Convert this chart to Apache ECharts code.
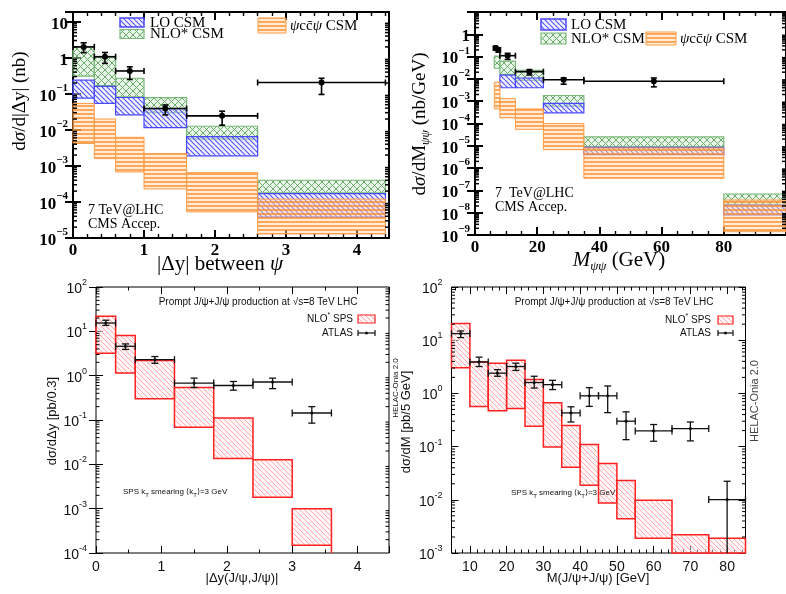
<!DOCTYPE html>
<html>
<head>
<meta charset="utf-8">
<script src="https://cdn.jsdelivr.net/npm/echarts@6/dist/echarts.min.js"></script>
<style>
html, body { margin: 0; padding: 0; background: #fff; }
#chart { width: 786px; height: 594px; }
</style>
</head>
<body>
<div id="chart"></div>
<script>
// ---------- CMS 7 TeV, |Δy| between the two ψ ----------
const dyEdges = [0, 0.3, 0.6, 1.0, 1.6, 2.6, 4.4];
const dyNloHi = [2.0, 1.02, 0.27, 0.078, 0.0126, 4.0e-4];
const dyNloLo = [0.31, 0.17, 0.083, 0.03, 0.0055, 1.8e-4];
const dyLoHi = [0.24, 0.16, 0.079, 0.039, 0.0065, 1.7e-4];
const dyLoLo = [0.076, 0.054, 0.026, 0.0115, 0.0019, 3.8e-5];
const dyCcHi = [0.054, 0.020, 0.0062, 0.0022, 6.5e-4, 1.2e-4];
const dyCcLo = [0.0042, 0.0016, 6.8e-4, 2.3e-4, 5.3e-5, 1.3e-5];
const dyCmsX = [0.15, 0.45, 0.8, 1.3, 2.1, 3.5];
const dyCmsY = [2.0, 1.07, 0.43, 0.039, 0.0245, 0.206];
const dyCmsLo = [1.38, 0.7, 0.25, 0.026, 0.0135, 0.096];
const dyCmsHi = [2.6, 1.4, 0.56, 0.049, 0.033, 0.27];

// ---------- CMS 7 TeV, ψψ invariant mass ----------
const mEdges = [6.2, 8, 13, 22, 35, 80, 100];
const mNloHi = [0.105, 0.063, 0.024, 1.8e-3, 2.5e-5, 6.9e-8];
const mNloLo = [0.03, 0.016, 0.0085, 6.0e-4, 9.0e-6, 2.2e-8];
const mLoHi = [null, 0.0147, 0.011, 8.0e-4, 8.5e-6, 2.2e-8];
const mLoLo = [null, 0.004, 0.004, 3.0e-4, 4.0e-6, 7.9e-9];
const mCcHi = [7.0e-3, 1.3e-3, 4.5e-4, 1.0e-4, 8.0e-6, 3.7e-8];
const mCcLo = [4.5e-4, 1.8e-4, 5.5e-5, 6.7e-6, 3.5e-7, 1.4e-9];
const mCmsX = [6.6, 7.5, 10.5, 17.5, 28.5, 57.5];
const mCmsXLo = [6.2, 7.0, 8, 13, 22, 35];
const mCmsXHi = [7.0, 8.0, 13, 22, 35, 80];
const mCmsY = [0.24, 0.2, 0.11, 0.021, 0.0092, 0.0078];
const mCmsLo = [0.2, 0.16, 0.075, 0.015, 0.0058, 0.0044];
const mCmsHi = [0.28, 0.25, 0.14, 0.026, 0.011, 0.011];

// ---------- ATLAS 8 TeV, |Δy(J/ψ,J/ψ)| ----------
const dyAEdges = [0, 0.3, 0.6, 1.2, 1.8, 2.4, 3.0, 3.6];
const dyASpsHi = [22, 8.1, 2.2, 0.54, 0.111, 0.0127, 1.0e-3];
const dyASpsLo = [3.2, 1.15, 0.30, 0.069, 0.0135, 0.0018, 1.5e-4];
const dyAtlasX = [0.15, 0.45, 0.9, 1.5, 2.1, 2.7, 3.3];
const dyAtlasY = [15.4, 4.6, 2.3, 0.68, 0.6, 0.72, 0.144];
const dyAtlasLo = [13.6, 3.9, 1.9, 0.54, 0.47, 0.51, 0.085];
const dyAtlasHi = [17.8, 5.2, 2.7, 0.88, 0.74, 0.88, 0.2];

// ---------- ATLAS 8 TeV, M(J/ψ+J/ψ) ----------
const mAEdges = [5, 10, 15, 20, 25, 30, 35, 40, 45, 50, 55, 65, 75, 85];
const mASpsHi = [20.5, 3.9, 3.7, 4.2, 1.82, 0.67, 0.25, 0.109, 0.048, 0.023, 0.0098, 0.0022, 0.0019];
const mASpsLo = [3.05, 0.57, 0.47, 0.52, 0.24, 0.098, 0.041, 0.0187, 0.0087, 0.0044, 0.0019, 6e-4, 6e-4];
const mAtlasX = [7.5, 12.5, 17.5, 22.5, 27.5, 32.5, 37.5, 42.5, 47.5, 52.5, 60, 70, 80];
const mAtlasY = [13.3, 3.9, 2.4, 3.2, 1.6, 1.46, 0.43, 0.9, 0.9, 0.3, 0.197, 0.218, 0.0101];
const mAtlasLo = [11.2, 3.2, 2.1, 2.7, 1.26, 1.18, 0.29, 0.57, 0.435, 0.135, 0.126, 0.128, 1e-4];
const mAtlasHi = [14.9, 4.8, 2.8, 3.7, 2.1, 1.76, 0.56, 1.28, 1.38, 0.45, 0.26, 0.29, 0.0223];

// axis ranges
const yRange = [[1e-5, 18.6], [1e-9, 10], [1e-4, 100], [1e-3, 100]];
const xRange = [[0, 4.45], [0, 100], [0, 4.48], [5, 85]];

const SERIF = "'Liberation Serif', 'DejaVu Serif', serif";
const SANS = "'Liberation Sans', Arial, sans-serif";

// ---------- hatch fills ----------
function hatch(size, bg, color, lw, kinds) {
  const c = document.createElement('canvas');
  c.width = size; c.height = size;
  const g = c.getContext('2d');
  if (bg) { g.fillStyle = bg; g.fillRect(0, 0, size, size); }
  g.strokeStyle = color; g.lineWidth = lw;
  kinds.forEach(k => {
    if (k === 'h') {
      g.beginPath(); g.moveTo(0, size / 2); g.lineTo(size, size / 2); g.stroke();
    } else {
      for (const o of [-size, 0, size]) {
        g.beginPath();
        if (k === 'b') { g.moveTo(o, 0); g.lineTo(o + size, size); }
        else { g.moveTo(o, size); g.lineTo(o + size, 0); }
        g.stroke();
      }
    }
  });
  return { image: c, repeat: 'repeat' };
}
const FILL_LO = hatch(5, 'rgba(225,225,255,0.45)', '#5050ff', 1.1, ['b']);
const FILL_NLO = hatch(7, 'rgba(205,232,205,0.45)', '#6aac6a', 1.0, ['b', 'f']);
const FILL_CC = hatch(4, 'rgba(255,214,172,0.45)', '#ff8a24', 1.4, ['h']);
const FILL_SPS = hatch(5, 'rgba(255,240,240,0.5)', '#ffabab', 1.0, ['b']);
const C_LO = '#4848ff', C_NLO = '#78b878', C_CC = '#ff9a45', C_SPS = '#ff2020';

// ---------- series builders ----------
function band(gi, edges, lo, hi, fill, stroke, lw, z) {
  const yMin = yRange[gi][0];
  const data = [];
  for (let i = 0; i < hi.length; i++) {
    if (hi[i] == null) continue;
    data.push([edges[i], edges[i + 1], Math.max(lo[i], yMin), hi[i]]);
  }
  return {
    type: 'custom', xAxisIndex: 2 * gi, yAxisIndex: 2 * gi, z, silent: true,
    data, encode: { x: [0, 1], y: [2, 3] },
    renderItem(params, api) {
      const a = api.coord([api.value(0), api.value(3)]);
      const b = api.coord([api.value(1), api.value(2)]);
      return {
        type: 'rect',
        shape: { x: a[0], y: a[1], width: b[0] - a[0], height: b[1] - a[1] },
        style: { fill, stroke, lineWidth: lw }
      };
    }
  };
}

function errBars(gi, xs, xlo, xhi, ys, ylo, yhi, o) {
  const yMin = yRange[gi][0];
  const data = xs.map((x, i) => [x, ys[i], xlo[i], xhi[i], ylo[i], yhi[i]]);
  return {
    type: 'custom', xAxisIndex: 2 * gi, yAxisIndex: 2 * gi, z: 10, silent: true,
    data, encode: { x: [0, 2, 3], y: [1, 4, 5] },
    renderItem(params, api) {
      const x = api.value(0), y = api.value(1);
      const lowClipped = api.value(4) <= yMin;
      const c = api.coord([x, y]);
      const l = api.coord([api.value(2), y]);
      const r = api.coord([api.value(3), y]);
      const b = api.coord([x, Math.max(api.value(4), yMin)]);
      const t = api.coord([x, api.value(5)]);
      const st = { stroke: o.color, lineWidth: o.lw };
      const ln = (x1, y1, x2, y2) => ({ type: 'line', shape: { x1, y1, x2, y2 }, style: st });
      const k = [
        ln(l[0], c[1], r[0], c[1]),
        ln(l[0], c[1] - o.cap, l[0], c[1] + o.cap),
        ln(r[0], c[1] - o.cap, r[0], c[1] + o.cap),
        ln(c[0], b[1], c[0], t[1]),
        ln(c[0] - o.cap, t[1], c[0] + o.cap, t[1])
      ];
      if (!lowClipped) k.push(ln(c[0] - o.cap, b[1], c[0] + o.cap, b[1]));
      k.push({ type: 'circle', shape: { cx: c[0], cy: c[1], r: o.r }, style: { fill: o.color } });
      return { type: 'group', children: k };
    }
  };
}

// decade sub-ticks (2..9) on both vertical sides of a log panel
function logMinor(gi, len, lw) {
  const [lo, hi] = yRange[gi];
  const data = [];
  for (let n = Math.floor(Math.log10(lo)); n <= Math.ceil(Math.log10(hi)); n++) {
    for (let m = 2; m <= 9; m++) {
      const v = m * Math.pow(10, n);
      if (v > lo && v < hi) data.push([xRange[gi][0], v]);
    }
  }
  return {
    type: 'custom', xAxisIndex: 2 * gi, yAxisIndex: 2 * gi, z: 6, silent: true,
    data, encode: { x: 0, y: 1 },
    renderItem(params, api) {
      const cs = params.coordSys;
      const y = api.coord([api.value(0), api.value(1)])[1];
      const st = { stroke: '#000', lineWidth: lw };
      return {
        type: 'group', children: [
          { type: 'line', shape: { x1: cs.x, y1: y, x2: cs.x + len, y2: y }, style: st },
          { type: 'line', shape: { x1: cs.x + cs.width - len, y1: y, x2: cs.x + cs.width, y2: y }, style: st }
        ]
      };
    }
  };
}

// ---------- axes ----------
function isPow10(v) { const l = Math.log10(v); return Math.abs(l - Math.round(l)) < 1e-6; }
function fmtTop(v) {
  if (!isPow10(v)) return '';
  const n = Math.round(Math.log10(v));
  if (n === 1) return '{b|10}';
  if (n === 0) return '{b|1}';
  return '{b|10}{e|\u2212' + (-n) + '}';
}
function fmtBottom(v) {
  if (!isPow10(v)) return '';
  const n = Math.round(Math.log10(v));
  return '{b|10}{e|' + n + '}';
}
const richTop = {
  b: { fontFamily: SERIF, fontWeight: 'bold', fontSize: 17, color: '#000', lineHeight: 22, verticalAlign: 'bottom' },
  e: { fontFamily: SERIF, fontWeight: 'bold', fontSize: 11, color: '#000', lineHeight: 12, verticalAlign: 'top' }
};
const richBottom = {
  b: { fontFamily: SANS, fontSize: 14, color: '#111', lineHeight: 18, verticalAlign: 'bottom' },
  e: { fontFamily: SANS, fontSize: 9, color: '#111', lineHeight: 10, verticalAlign: 'top' }
};

function xPair(gi, extra, label, tickLen, lw, minorSplit) {
  const base = Object.assign({
    type: 'value', gridIndex: gi, min: xRange[gi][0], max: xRange[gi][1],
    axisLine: { show: false, onZero: false }, splitLine: { show: false },
    axisTick: { inside: true, length: tickLen, lineStyle: { color: '#000', width: lw } },
    minorTick: { show: true, splitNumber: minorSplit, length: tickLen / 2, lineStyle: { color: '#000', width: Math.max(1, lw * 0.7) } }
  }, extra);
  return [
    Object.assign({}, base, { position: 'bottom', axisLabel: Object.assign({ showMaxLabel: false, showMinLabel: true }, label) }),
    Object.assign({}, base, { position: 'top', axisLabel: { show: false } })
  ];
}
function yPair(gi, fmt, rich, margin, tickLen, lw, showMax) {
  const base = {
    type: 'log', logBase: 10, gridIndex: gi, min: yRange[gi][0], max: yRange[gi][1], splitNumber: 20,
    axisLine: { show: false }, splitLine: { show: false },
    axisTick: { inside: true, length: tickLen, lineStyle: { color: '#000', width: lw } }
  };
  return [
    Object.assign({}, base, { position: 'left', axisLabel: { formatter: fmt, rich, margin, showMaxLabel: showMax, showMinLabel: true } }),
    Object.assign({}, base, { position: 'right', axisLabel: { show: false } })
  ];
}

const xTopLabel = { fontFamily: SERIF, fontWeight: 'bold', fontSize: 17, color: '#000', margin: 4 };
const xBotLabel = { fontFamily: SANS, fontSize: 14, color: '#111', margin: 7 };

const xAxes = [].concat(
  xPair(0, { interval: 1 }, xTopLabel, 8, 2, 5),
  xPair(1, { interval: 20 }, xTopLabel, 8, 2, 4),
  xPair(2, { interval: 1 }, xBotLabel, 7, 1, 2),
  xPair(3, { splitNumber: 8 }, Object.assign({ showMinLabel: false }, xBotLabel), 7, 1, 5)
);
const yAxes = [].concat(
  yPair(0, fmtTop, richTop, 5, 8, 2, false),
  yPair(1, fmtTop, richTop, 5, 8, 2, false),
  yPair(2, fmtBottom, richBottom, 9, 7, 1, true),
  yPair(3, fmtBottom, richBottom, 9, 7, 1, true)
);

// ---------- series ----------
const topErr = { color: '#000', lw: 1.6, cap: 3, r: 3 };
const botErr = { color: '#111', lw: 1.3, cap: 3.5, r: 1.6 };

const series = [
  band(0, dyEdges, dyNloLo, dyNloHi, FILL_NLO, C_NLO, 1.2, 2),
  band(0, dyEdges, dyLoLo, dyLoHi, FILL_LO, C_LO, 1.2, 3),
  band(0, dyEdges, dyCcLo, dyCcHi, FILL_CC, C_CC, 1.0, 4),
  errBars(0, dyCmsX, dyEdges.slice(0, 6), dyEdges.slice(1), dyCmsY, dyCmsLo, dyCmsHi, topErr),
  logMinor(0, 4, 1.5),

  band(1, mEdges, mNloLo, mNloHi, FILL_NLO, C_NLO, 1.2, 2),
  band(1, mEdges, mLoLo, mLoHi, FILL_LO, C_LO, 1.2, 3),
  band(1, mEdges, mCcLo, mCcHi, FILL_CC, C_CC, 1.0, 4),
  errBars(1, mCmsX, mCmsXLo, mCmsXHi, mCmsY, mCmsLo, mCmsHi, topErr),
  logMinor(1, 4, 1.5),

  band(2, dyAEdges, dyASpsLo, dyASpsHi, FILL_SPS, C_SPS, 1.5, 3),
  {
    type: 'line', xAxisIndex: 4, yAxisIndex: 4, z: 3, silent: true, symbol: 'none',
    lineStyle: { color: C_SPS, width: 1.5 },
    data: [[dyAEdges[7], dyASpsLo[6]], [dyAEdges[7], yRange[2][0]]]
  },
  errBars(2, dyAtlasX, dyAEdges.slice(0, 7), dyAEdges.slice(1), dyAtlasY, dyAtlasLo, dyAtlasHi, botErr),
  logMinor(2, 3.5, 1),

  band(3, mAEdges, mASpsLo, mASpsHi, FILL_SPS, C_SPS, 1.5, 3),
  errBars(3, mAtlasX, mAEdges.slice(0, 13), mAEdges.slice(1), mAtlasY, mAtlasLo, mAtlasHi, botErr),
  logMinor(3, 3.5, 1)
];

// ---------- annotations ----------
function text(x, y, t, style, extra) {
  return Object.assign({ type: 'text', x, y, z: 20, style: Object.assign({ text: t, fill: '#000' }, style) }, extra || {});
}
function rich(fs, family) {
  return {
    n: { fontFamily: family, fontSize: fs, lineHeight: fs + 5, verticalAlign: 'middle' },
    i: { fontFamily: family, fontSize: fs, fontStyle: 'italic', lineHeight: fs + 5, verticalAlign: 'middle' },
    s: { fontFamily: family, fontSize: Math.round(fs * 0.62), fontStyle: 'italic', lineHeight: 10, verticalAlign: 'bottom' },
    sup: { fontFamily: family, fontSize: Math.round(fs * 0.7), lineHeight: 8, verticalAlign: 'top' },
    sub: { fontFamily: family, fontSize: Math.round(fs * 0.7), lineHeight: 8, verticalAlign: 'bottom' }
  };
}
function box(x, y, w, h, fill, stroke, lw) {
  return { type: 'rect', z: 20, shape: { x, y, width: w, height: h }, style: { fill, stroke, lineWidth: lw } };
}
function atlasGlyph(x1, x2, y) {
  const st = { stroke: '#111', lineWidth: 1.2 };
  return {
    type: 'group', z: 20, children: [
      { type: 'line', shape: { x1, y1: y, x2, y2: y }, style: st },
      { type: 'line', shape: { x1, y1: y - 3, x2: x1, y2: y + 3 }, style: st },
      { type: 'line', shape: { x1: x2, y1: y - 3, x2, y2: y + 3 }, style: st },
      { type: 'circle', shape: { cx: (x1 + x2) / 2, cy: y, r: 1.5 }, style: { fill: '#111' } }
    ]
  };
}
const serifTxt = (fs) => ({ fontFamily: SERIF, fontSize: fs, align: 'left', verticalAlign: 'middle' });
const sansTxt = (fs, align) => ({ fontFamily: SANS, fontSize: fs, align: align || 'left', verticalAlign: 'middle', fill: '#111' });

const graphics = [
  // top-left panel
  box(120, 18, 24, 9, FILL_LO, C_LO, 1.5),
  text(150, 23, 'LO CSM', serifTxt(15)),
  box(120, 29.5, 24, 9, FILL_NLO, C_NLO, 1.2),
  text(150, 34.5, 'NLO* CSM', serifTxt(15)),
  box(258, 18, 28, 15, FILL_CC, C_CC, 1),
  text(290, 26, '{i|ψ}{n|cc\u0304}{i|ψ}{n| CSM}', Object.assign(serifTxt(15), { rich: rich(15, SERIF) })),
  text(88, 210, '7 TeV@LHC', serifTxt(14)),
  text(88, 224, 'CMS Accep.', serifTxt(14)),
  text(20, 101, '{n|d}{i|σ}{n|/d|Δy| (nb)}',
    { fontFamily: SERIF, fontSize: 19, align: 'center', verticalAlign: 'middle', rich: rich(19, SERIF) },
    { rotation: Math.PI / 2 }),
  text(220, 264, '{n||Δy| between }{i|ψ}',
    { fontFamily: SERIF, fontSize: 21, align: 'center', verticalAlign: 'middle', rich: rich(21, SERIF) }),

  // top-right panel
  box(541, 19, 25, 11, FILL_LO, C_LO, 1.5),
  text(571, 25, 'LO CSM', serifTxt(15)),
  box(541, 33, 25, 11, FILL_NLO, C_NLO, 1.2),
  text(571, 39, 'NLO* CSM', serifTxt(15)),
  box(646, 32, 30, 13, FILL_CC, C_CC, 1),
  text(680, 39, '{i|ψ}{n|cc\u0304}{i|ψ}{n| CSM}', Object.assign(serifTxt(15), { rich: rich(15, SERIF) })),
  text(495, 193, '7  TeV@LHC', serifTxt(14)),
  text(495, 207, 'CMS Accep.', serifTxt(14)),
  text(420, 124, '{n|d}{i|σ}{n|/dM}{s|ψψ}{n| (nb/GeV)}',
    { fontFamily: SERIF, fontSize: 19, align: 'center', verticalAlign: 'middle', rich: rich(19, SERIF) },
    { rotation: Math.PI / 2 }),
  text(619, 260, '{i|M}{s|ψψ}{n| (GeV)}',
    { fontFamily: SERIF, fontSize: 21, align: 'center', verticalAlign: 'middle', rich: rich(21, SERIF) }),

  // bottom-left panel
  text(258, 302, 'Prompt J/ψ+J/ψ production at √s=8 TeV LHC', sansTxt(10, 'center')),
  text(353, 319, '{n|NLO}{sup|*}{n| SPS}', Object.assign(sansTxt(10, 'right'), { rich: rich(10, SANS) })),
  box(358, 315, 17, 8, FILL_SPS, C_SPS, 1.2),
  text(353, 333, 'ATLAS', sansTxt(10, 'right')),
  atlasGlyph(358, 375, 333),
  text(123, 492, '{n|SPS k}{sub|T}{n| smearing ⟨k}{sub|T}{n|⟩=3 GeV}', Object.assign(sansTxt(8), { rich: rich(8, SANS) })),
  text(52, 421, 'dσ/dΔy [pb/0.3]', sansTxt(13, 'center'), { rotation: Math.PI / 2 }),
  text(242, 578, '|Δy(J/ψ,J/ψ)|', sansTxt(13, 'center')),

  // bottom-right panel
  text(614, 302, 'Prompt J/ψ+J/ψ production at √s=8 TeV LHC', sansTxt(10, 'center')),
  text(711, 320, '{n|NLO}{sup|*}{n| SPS}', Object.assign(sansTxt(10, 'right'), { rich: rich(10, SANS) })),
  box(718, 316, 15, 8, FILL_SPS, C_SPS, 1.2),
  text(711, 333, 'ATLAS', sansTxt(10, 'right')),
  atlasGlyph(718, 733, 333),
  text(511, 493, '{n|SPS k}{sub|T}{n| smearing ⟨k}{sub|T}{n|⟩=3 GeV}', Object.assign(sansTxt(8), { rich: rich(8, SANS) })),
  text(396, 388, 'HELAC-Onia 2.0', sansTxt(8, 'center'), { rotation: Math.PI / 2 }),
  text(406, 422, 'dσ/dM [pb/5 GeV]', sansTxt(13, 'center'), { rotation: Math.PI / 2 }),
  text(755, 401, 'HELAC-Onia 2.0', Object.assign(sansTxt(11, 'center'), { fill: '#444' }), { rotation: Math.PI / 2 }),
  text(598, 578, 'M(J/ψ+J/ψ) [GeV]', sansTxt(13, 'center'))
];

const chart = echarts.init(document.getElementById('chart'), null, { renderer: 'canvas', width: 786, height: 594 });
chart.setOption({
  backgroundColor: '#fff',
  animation: false,
  grid: [
    { left: 73, top: 12, width: 316, height: 226, show: true, borderColor: '#000', borderWidth: 2 },
    { left: 475, top: 12, width: 312, height: 223, show: true, borderColor: '#000', borderWidth: 2 },
    { left: 96, top: 287, width: 293, height: 266, show: true, borderColor: '#000', borderWidth: 1 },
    { left: 451.5, top: 287, width: 294, height: 266, show: true, borderColor: '#000', borderWidth: 1 }
  ],
  xAxis: xAxes,
  yAxis: yAxes,
  series,
  graphic: graphics
});
</script>
</body>
</html>
